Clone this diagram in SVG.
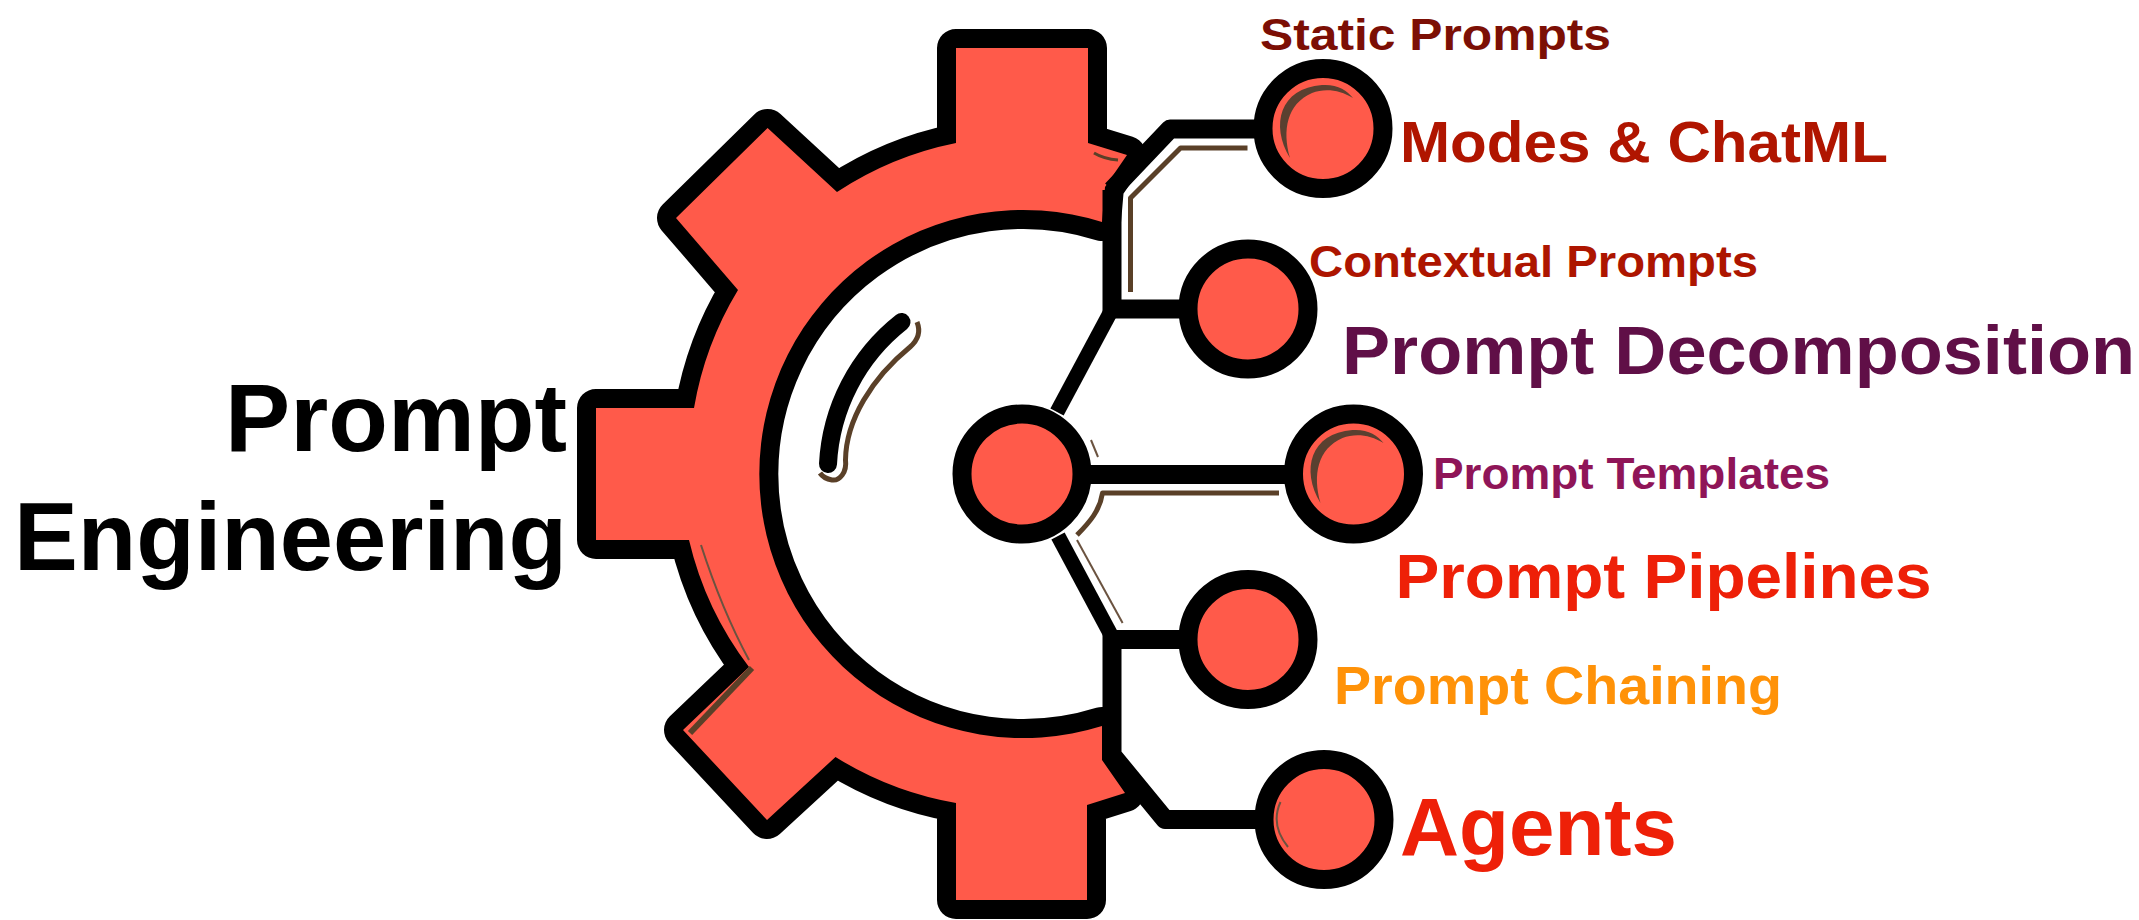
<svg xmlns="http://www.w3.org/2000/svg" width="2139" height="920" viewBox="0 0 2139 920">
<style>
.gear{fill:#ff5a4a;stroke:#000;stroke-width:38;stroke-linejoin:round;paint-order:stroke}
.dot{fill:#ff5a4a;stroke:#000;stroke-width:19}
.link{fill:none;stroke:#000;stroke-width:19;stroke-linejoin:round}
.diag{fill:none;stroke:#000;stroke-width:15}
.br{fill:none;stroke:#5a4028;stroke-width:5;stroke-linejoin:round}
.thin{fill:none;stroke:#6b5340;stroke-width:2}
.cres{fill:#5a4030}
text{font-family:"Liberation Sans",Arial,sans-serif;font-weight:700}
</style>
<rect width="2139" height="920" fill="#fff"/>
<g id="gear">
<path class="gear" d="M956 48H1088V143L1127 155L1105 187L1102 222A264 264 0 1 0 1102 726L1102 760L1125 793L1087 805V900H956V803A337 337 0 0 1 835.5 757L767 820L683 730L749 667A337 337 0 0 1 689 540H596V408H694A337 337 0 0 1 738 290L676 218L767.6 128L837 192A337 337 0 0 1 956 143Z"/>
<path d="M901.5 322A193 193 0 0 0 828 464" fill="none" stroke="#000" stroke-width="18" stroke-linecap="round"/>
<path class="br" d="M917 322C921 332 918 340 910 347C872 378 846 420 845.5 460C847 472 840 481 832 480C826 479 822 476 820 473"/>
<path class="br" style="stroke-width:3" d="M1094 153Q1104 159 1118 160"/>
<path class="thin" d="M701 545Q722 610 749 660"/>
<path class="br" style="stroke-width:6" d="M752 668L690 733"/>
</g>
<g id="connectors">
<path class="link" d="M1112 190V318"/>
<path class="link" d="M1112 630V755L1165 819.5H1265"/>
<path class="link" d="M1112 190L1170 129H1265"/>
<path class="link" d="M1112 309H1190"/>
<path class="diag" d="M1110 313L1057 412"/>
<path class="link" d="M1072 474.5H1295"/>
<path class="diag" d="M1058 536L1111 635"/>
<path class="link" d="M1112 639.5H1190"/>
<path class="br" d="M1247.5 148H1180.5L1130.5 198V292"/>
<path class="br" d="M1279 493H1102.5C1100 510 1090 522 1077 535"/>
<path class="thin" d="M1077 540L1122.6 623"/>
</g>
<g id="hub">
<circle class="dot" cx="1022" cy="474" r="60"/>
<path class="thin" d="M1091 440L1098 457"/>
</g>
<g id="node-modes">
<circle class="dot" cx="1323" cy="128.5" r="60"/>
<path class="cres" d="M1290 158C1270 125 1280 88 1322 85C1337 84 1347 90 1353 98C1340 90 1325 88 1312 93C1287 104 1282 130 1290 158Z"/>
<text x="1260" y="50" font-size="44" fill="#7c0f05" textLength="351" lengthAdjust="spacingAndGlyphs">Static Prompts</text>
<text x="1400" y="161.7" font-size="58" fill="#b01500" textLength="488" lengthAdjust="spacingAndGlyphs">Modes &amp; ChatML</text>
</g>
<g id="node-contextual">
<circle class="dot" cx="1248" cy="309" r="60"/>
<text x="1309" y="276.7" font-size="44" fill="#ad1500" textLength="449" lengthAdjust="spacingAndGlyphs">Contextual Prompts</text>
<text x="1342" y="374" font-size="68" fill="#600f47" textLength="793" lengthAdjust="spacingAndGlyphs">Prompt Decomposition</text>
</g>
<g id="node-templates">
<circle class="dot" cx="1353.5" cy="474" r="60"/>
<path class="cres" d="M1320.5 503C1300.5 470 1310.5 433 1352.5 430C1367.5 429 1377.5 435 1383.5 443C1370.5 435 1355.5 433 1342.5 438C1317.5 449 1312.5 475 1320.5 503Z"/>
<text x="1433" y="489.3" font-size="44" fill="#8f1558" textLength="397" lengthAdjust="spacingAndGlyphs">Prompt Templates</text>
<text x="1395.5" y="598" font-size="63" fill="#ee2008" textLength="536" lengthAdjust="spacingAndGlyphs">Prompt Pipelines</text>
</g>
<g id="node-pipelines">
<circle class="dot" cx="1248" cy="639.5" r="60"/>
<text x="1334" y="704" font-size="53" fill="#ff9208" textLength="448" lengthAdjust="spacingAndGlyphs">Prompt Chaining</text>
</g>
<g id="node-agents">
<circle class="dot" cx="1324" cy="819.5" r="60"/>
<path class="thin" d="M1280.5 802Q1270 825 1288 847"/>
<text x="1400" y="855" font-size="81" fill="#ee2008" textLength="277" lengthAdjust="spacingAndGlyphs">Agents</text>
</g>
<g id="title">
<text x="225" y="450.7" font-size="96" fill="#000" textLength="342" lengthAdjust="spacingAndGlyphs">Prompt</text>
<text x="14" y="570" font-size="96" fill="#000" textLength="553" lengthAdjust="spacingAndGlyphs">Engineering</text>
</g>
</svg>
